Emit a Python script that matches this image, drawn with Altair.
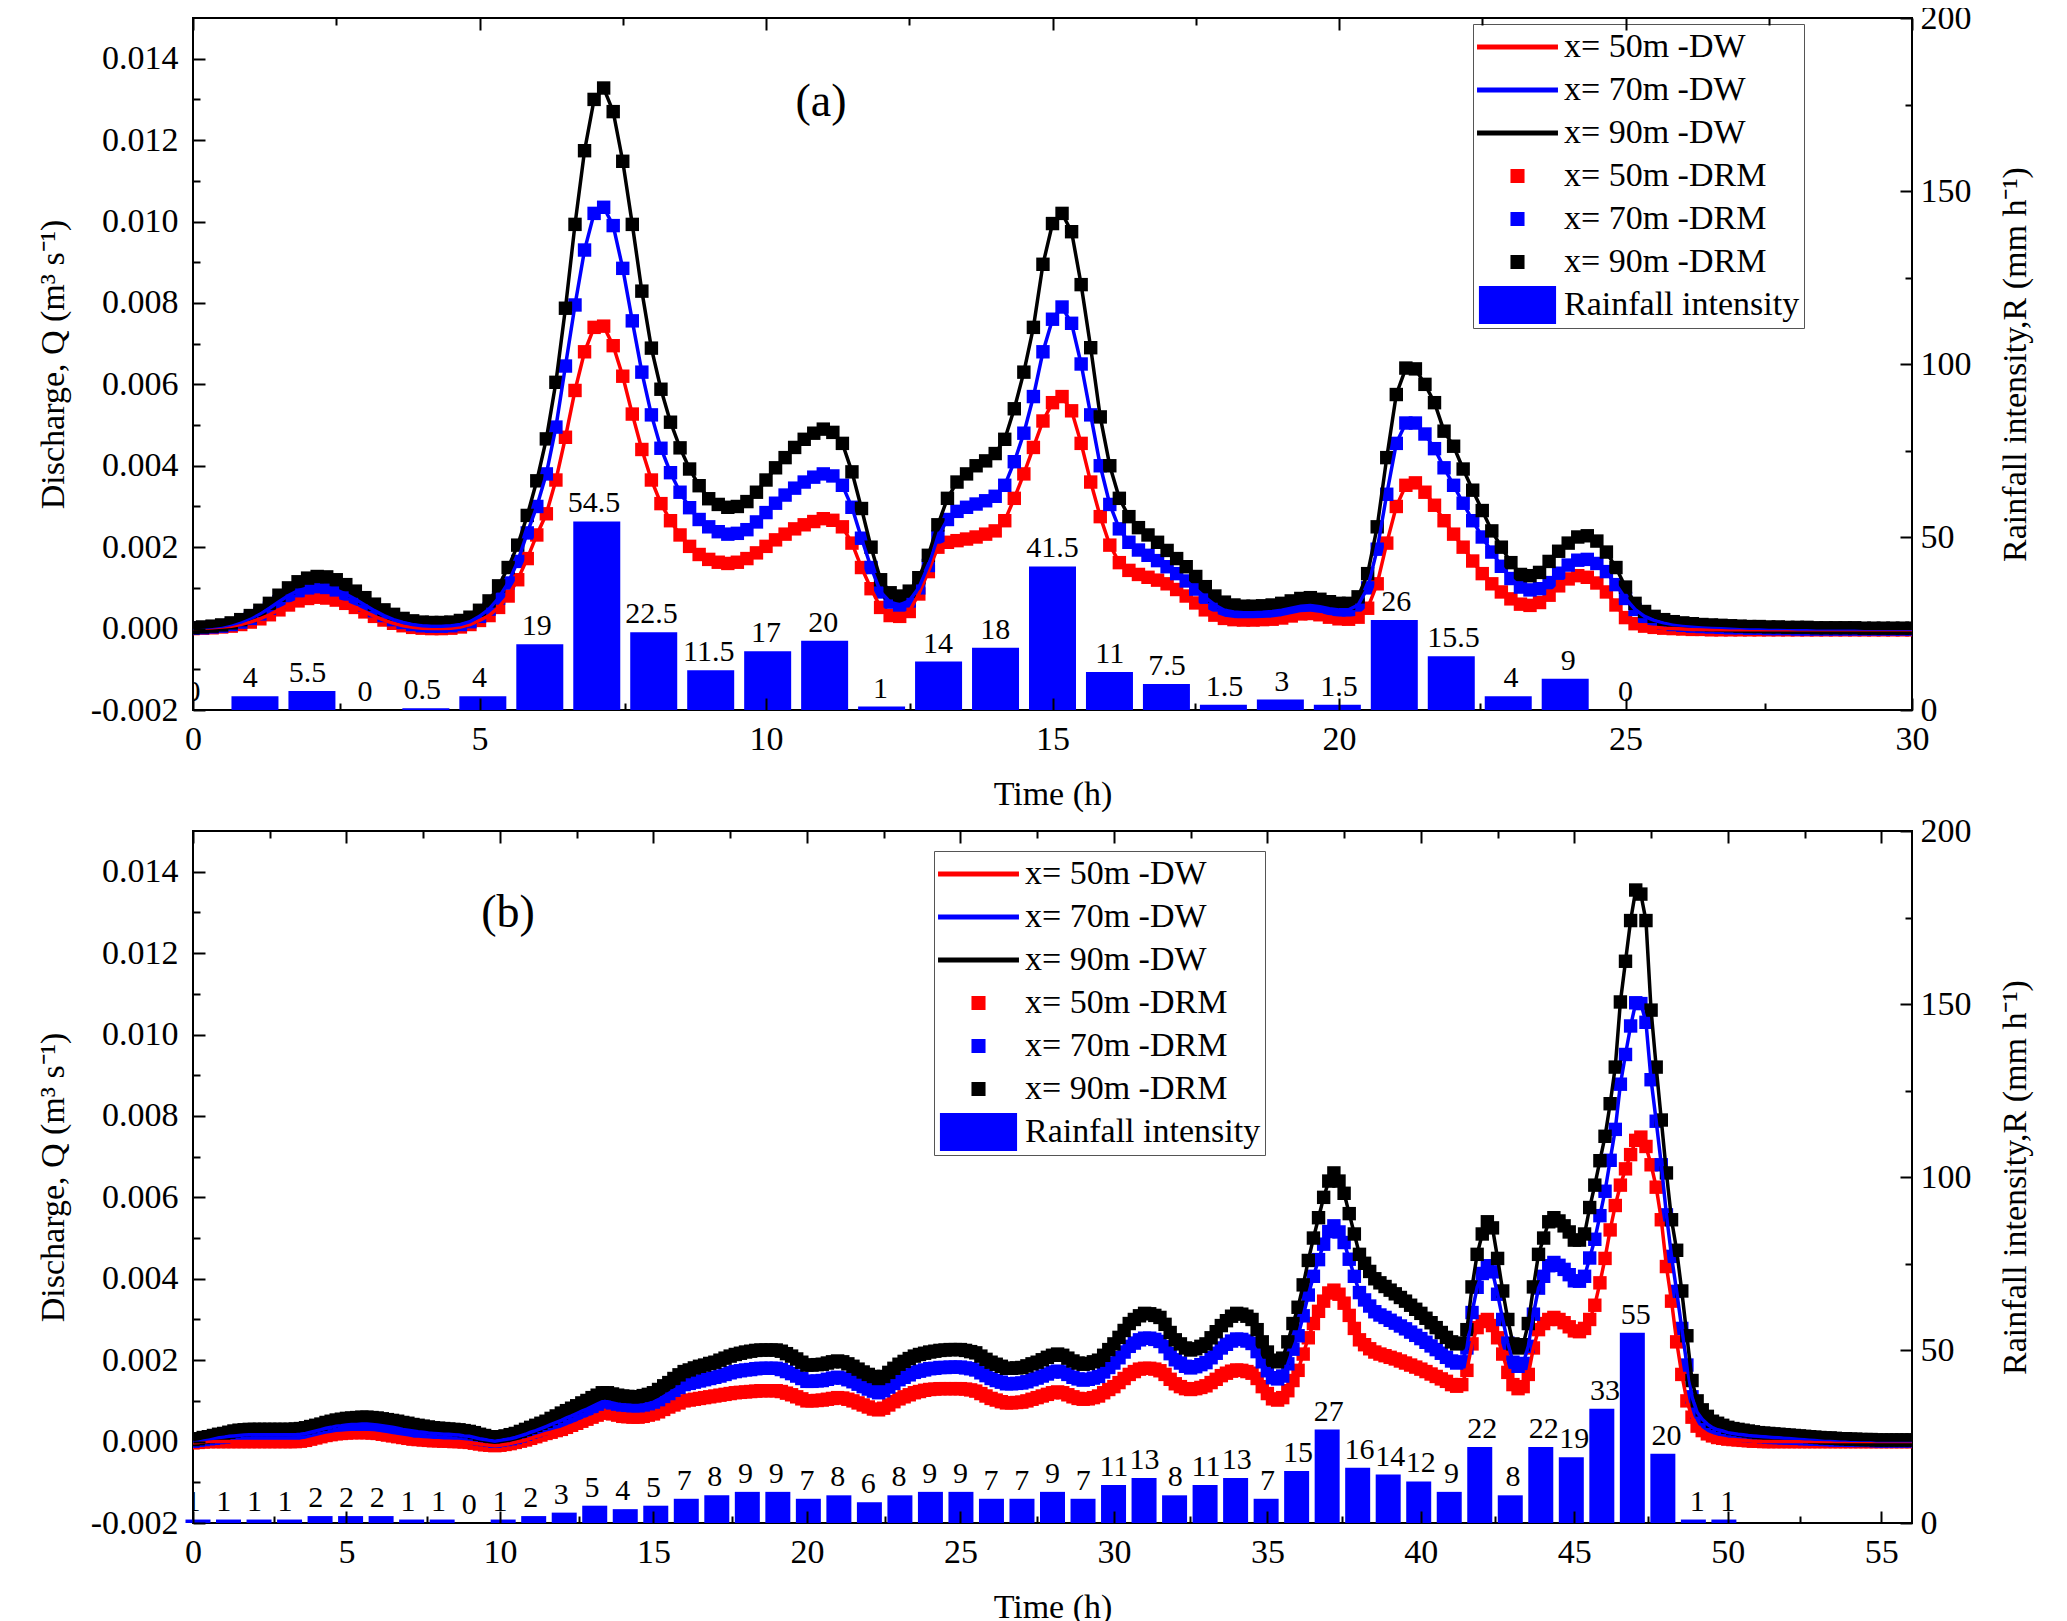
import numpy as np
import pandas as pd
import altair as alt

FONT = "Liberation Serif"

# Discharge, in 1e-5 m3/s, one value every 10 minutes.
# Panel (a): 0-30 h
q50_a = [
    0, 1, 2, 4, 6, 10,
    16, 24, 34, 46, 58, 68,
    74, 77, 75, 70, 62, 52,
    41, 30, 21, 13, 7, 3,
    1, 0, 0, 1, 4, 10,
    20, 32, 52, 80, 120, 172,
    230, 282, 365, 470, 585, 680,
    740, 743, 695, 620, 527, 440,
    365, 307, 265, 230, 202, 182,
    170, 163, 160, 163, 172, 186,
    202, 218, 232, 245, 255, 263,
    270, 266, 250, 210, 150, 98,
    52, 32, 30, 42, 85, 140,
    200, 212, 216, 220, 225, 232,
    240, 265, 320, 380, 445, 510,
    555, 570, 535, 455, 360, 275,
    205, 162, 143, 133, 126, 119,
    110, 96, 80, 63, 46, 33,
    25, 22, 21, 21, 22, 23,
    26, 31, 36, 37, 34, 28,
    24, 23, 28, 50, 110, 210,
    300, 352, 358, 335, 303, 265,
    232, 200, 166, 135, 110, 90,
    73, 60, 57, 64, 82, 105,
    122, 130, 126, 112, 90, 58,
    27, 12, 6, 3, 1, 0,
    -1, -2, -2, -3, -3, -3,
    -3, -3, -3, -3, -3, -3,
    -3, -3, -3, -3, -3, -3,
    -3, -3, -3, -3, -3, -3,
    -3,
]
q70_a = [
    1, 2, 4, 6, 10, 16,
    25, 36, 50, 66, 81, 93,
    100, 103, 101, 95, 85, 72,
    58, 44, 32, 22, 15, 10,
    7, 6, 6, 7, 10, 17,
    30, 48, 75, 112, 165, 235,
    300, 380, 495, 645, 795, 930,
    1020, 1035, 990, 885, 756, 630,
    525, 443, 383, 335, 297, 268,
    250, 238, 232, 234, 243, 262,
    285, 308, 328, 345, 360, 372,
    380, 375, 352, 298, 222, 150,
    90, 65, 58, 68, 100, 155,
    225, 268, 288, 298, 306, 314,
    325, 352, 410, 480, 570, 680,
    760, 790, 750, 650, 525, 400,
    305, 245, 212, 193, 180, 167,
    152, 135, 117, 97, 77, 58,
    45, 41, 39, 39, 40, 42,
    45, 50, 55, 57, 54, 49,
    46, 46, 58, 100, 195, 330,
    455, 505, 505, 478, 442, 395,
    352, 308, 265, 225, 188, 153,
    123, 102, 95, 98, 113, 136,
    156, 168, 170, 160, 140, 108,
    74, 47, 30, 20, 14, 10,
    8, 6, 5, 4, 3, 2,
    2, 1, 1, 0, 0, 0,
    -1, -1, -1, -1, -1, -1,
    -1, -1, -1, -1, -1, -1,
    -1,
]
q90_a = [
    2, 4, 6, 9, 14, 22,
    32, 45, 62, 82, 100, 115,
    124, 128, 127, 120, 108, 92,
    76, 60, 46, 35, 25, 19,
    16, 15, 15, 16, 20, 28,
    45, 68, 105, 150, 205, 278,
    363, 466, 605, 787, 993, 1174,
    1300, 1328, 1270, 1148, 993, 829,
    689, 588, 507, 444, 392, 351,
    319, 305, 298, 300, 312, 335,
    365, 395, 420, 445, 465, 480,
    490, 482, 455, 385, 295, 200,
    120, 88, 80, 92, 125, 180,
    255, 320, 360, 380, 400, 412,
    430, 465, 540, 630, 740, 895,
    995, 1020, 975, 845, 690, 520,
    400, 320, 275, 248, 230, 212,
    192, 172, 152, 128, 103, 80,
    65, 58, 55, 55, 56, 58,
    62, 68, 74, 76, 72, 66,
    62, 62, 78, 135, 250, 420,
    575, 640, 638, 600, 555, 485,
    448, 392, 340, 290, 240, 200,
    162, 133, 130, 138, 165, 190,
    210, 225, 228, 215, 188, 150,
    102, 62, 42, 30, 22, 17,
    14, 12, 10, 9, 8, 7,
    6, 5, 5, 4, 4, 3,
    3, 3, 2, 2, 2, 2,
    2, 1, 1, 1, 1, 1,
    1,
]
# hourly rainfall intensity (mm/h), bars centred on each hour
rain_a = [0, 4, 5.5, 0, 0.5, 4, 19, 54.5, 22.5, 11.5, 17, 20, 1, 14, 18,
          41.5, 11, 7.5, 1.5, 3, 1.5, 26, 15.5, 4, 9, 0]

# Panel (b): 0-56 h
q50_b = [
    -3, -2, -1, 0, 0, 0,
    0, 0, 0, 0, 0, 0,
    0, 0, 0, 0, 0, 0,
    0, 0, 0, 1, 3, 6,
    9, 12, 15, 17, 19, 20,
    21, 22, 22, 22, 22, 21,
    20, 18, 16, 14, 12, 10,
    8, 6, 5, 4, 3, 2,
    2, 1, 1, 0, 0, -1,
    -2, -4, -6, -8, -9, -10,
    -9, -7, -5, -2, 1, 4,
    8, 12, 16, 20, 23, 27,
    30, 35, 40, 45, 50, 55,
    60, 65, 70, 70, 68, 65,
    62, 61, 60, 60, 62, 65,
    68, 73, 79, 85, 90, 95,
    100, 102, 104, 106, 108, 110,
    112, 114, 116, 118, 120, 121,
    122, 123, 124, 125, 125, 125,
    125, 123, 119, 115, 110, 105,
    100, 100, 101, 102, 104, 106,
    108, 107, 104, 100, 95, 90,
    85, 80, 78, 82, 90, 98,
    105, 110, 115, 120, 123, 126,
    128, 129, 130, 130, 130, 130,
    130, 129, 127, 124, 118, 112,
    106, 102, 98, 95, 95, 96,
    97, 100, 104, 108, 112, 116,
    120, 122, 120, 115, 110, 106,
    104, 105, 108, 112, 120, 128,
    135, 145, 155, 165, 172, 178,
    180, 180, 178, 174, 165, 153,
    142, 135, 130, 128, 130, 133,
    137, 145, 153, 162, 168, 173,
    176, 175, 172, 168, 155, 135,
    118, 105, 102, 108, 125, 150,
    175, 215, 255, 290, 320, 345,
    365, 372, 362, 340, 310, 278,
    250, 238, 228, 220, 215, 211,
    207, 203, 198, 193, 188, 183,
    178, 172, 166, 160, 154, 148,
    140, 136, 140, 175, 240, 280,
    295, 300, 285, 255, 215, 170,
    140, 130, 135, 165, 230, 275,
    290, 300, 305, 300, 292, 282,
    272, 270, 278, 300, 335, 390,
    450, 520, 580, 630, 670, 705,
    740, 748, 725, 680, 625, 545,
    430, 345, 245, 165, 100, 60,
    38, 27, 19, 14, 10, 8,
    6, 5, 4, 3, 2, 1,
    1, 0, 0, 0, 0, 0,
    0, 0, 0, 0, 0, 0,
    0, 0, 0, 0, 0, 0,
    0, 0, 0, 0, 0, 0,
    0, 0, 0, 0, 0, 0,
    0,
]
q70_b = [
    1, 3, 5, 7, 8, 10,
    11, 13, 14, 15, 16, 17,
    17, 17, 17, 17, 17, 17,
    17, 17, 17, 18, 20, 23,
    26, 29, 33, 35, 38, 39,
    41, 42, 42, 43, 43, 42,
    41, 39, 37, 35, 33, 30,
    28, 26, 24, 23, 21, 20,
    19, 18, 18, 17, 16, 14,
    13, 10, 7, 5, 3, 1,
    3, 5, 7, 10, 14, 18,
    23, 27, 32, 37, 42, 47,
    52, 58, 63, 69, 75, 80,
    86, 92, 98, 98, 95, 92,
    90, 89, 88, 88, 90, 93,
    97, 103, 111, 118, 126, 133,
    140, 143, 146, 149, 152, 155,
    158, 161, 165, 169, 172, 174,
    176, 177, 179, 180, 180, 180,
    180, 177, 172, 167, 161, 155,
    148, 148, 149, 150, 153, 156,
    158, 156, 152, 147, 141, 135,
    129, 124, 120, 125, 134, 143,
    152, 158, 164, 170, 173, 176,
    179, 180, 182, 182, 183, 183,
    183, 181, 179, 176, 169, 162,
    155, 150, 146, 142, 142, 143,
    144, 147, 152, 156, 161, 166,
    171, 173, 171, 165, 158, 154,
    151, 153, 156, 160, 171, 182,
    193, 206, 220, 234, 242, 250,
    254, 254, 251, 246, 233, 216,
    201, 193, 185, 181, 184, 189,
    194, 206, 217, 230, 239, 247,
    252, 251, 247, 241, 221, 196,
    174, 157, 154, 161, 191, 227,
    260, 309, 360, 406, 447, 485,
    516, 530, 515, 489, 448, 406,
    366, 348, 333, 319, 311, 305,
    298, 291, 284, 277, 269, 261,
    253, 244, 235, 226, 217, 207,
    198, 193, 196, 230, 317, 379,
    413, 432, 417, 362, 300, 242,
    195, 185, 192, 234, 313, 377,
    406, 432, 440, 433, 423, 410,
    395, 394, 406, 451, 497, 555,
    615, 691, 767, 878, 951, 1021,
    1078, 1076, 1030, 889, 787, 680,
    557, 455, 369, 278, 188, 110,
    72, 55, 43, 34, 29, 26,
    22, 20, 18, 17, 15, 14,
    13, 12, 11, 10, 10, 9,
    9, 8, 8, 7, 7, 6,
    6, 5, 5, 4, 4, 4,
    3, 3, 3, 3, 3, 2,
    2, 2, 2, 2, 2, 2,
    2,
]
q90_b = [
    5, 7, 10, 12, 15, 18,
    20, 23, 26, 28, 29, 30,
    30, 30, 30, 30, 30, 30,
    30, 30, 31, 32, 34, 37,
    40, 43, 47, 50, 53, 55,
    57, 58, 59, 60, 60, 59,
    58, 56, 54, 52, 50, 47,
    45, 42, 40, 38, 36, 34,
    33, 32, 31, 30, 29, 27,
    25, 22, 18, 15, 12, 10,
    12, 14, 17, 20, 25, 30,
    35, 40, 45, 50, 57, 63,
    70, 76, 82, 88, 95, 101,
    108, 114, 120, 120, 117, 114,
    112, 111, 110, 110, 113, 116,
    120, 128, 137, 145, 155, 164,
    172, 176, 181, 185, 188, 192,
    195, 200, 205, 210, 214, 217,
    220, 222, 224, 225, 225, 225,
    225, 222, 216, 210, 203, 195,
    188, 188, 189, 190, 193, 196,
    198, 196, 191, 185, 178, 171,
    165, 160, 155, 160, 170, 180,
    190, 197, 204, 210, 214, 217,
    220, 222, 224, 225, 226, 226,
    226, 224, 221, 218, 210, 202,
    195, 190, 185, 180, 180, 181,
    182, 186, 191, 195, 201, 207,
    212, 215, 212, 205, 198, 193,
    190, 192, 196, 200, 212, 226,
    240, 256, 273, 290, 300, 309,
    315, 314, 310, 305, 288, 268,
    250, 240, 230, 225, 228, 234,
    240, 255, 270, 285, 297, 308,
    315, 313, 308, 300, 275, 245,
    220, 200, 196, 205, 245, 290,
    330, 385, 445, 500, 550, 600,
    640, 660, 640, 610, 560, 510,
    460, 438, 418, 400, 390, 381,
    372, 363, 354, 345, 335, 325,
    315, 303, 292, 280, 268, 256,
    245, 240, 242, 275, 380, 460,
    510, 540, 525, 450, 370, 300,
    240, 230, 238, 290, 380, 460,
    500, 540, 550, 542, 530, 515,
    495, 495, 510, 575, 630, 690,
    750, 830, 920, 1080, 1180, 1280,
    1355, 1345, 1280, 1060, 920, 790,
    660, 545, 470, 370, 260, 150,
    100, 78, 62, 50, 45, 40,
    35, 32, 30, 28, 26, 24,
    22, 21, 20, 19, 18, 17,
    16, 15, 14, 13, 12, 11,
    10, 9, 9, 8, 7, 7,
    6, 6, 5, 5, 5, 4,
    4, 4, 4, 4, 4, 4,
    4,
]
rain_b = [1, 1, 1, 1, 2, 2, 2, 1, 1, 0, 1, 2, 3, 5, 4, 5, 7, 8, 9, 9, 7, 8,
          6, 8, 9, 9, 7, 7, 9, 7, 11, 13, 8, 11, 13, 7, 15, 27, 16, 14, 12,
          9, 22, 8, 22, 19, 33, 55, 20, 1, 1]

for arr in (q50_a, q70_a, q90_a):
    assert len(arr) == 181, len(arr)
for arr in (q50_b, q70_b, q90_b):
    assert len(arr) == 337, len(arr)

SERIES = ["x= 50m -DW", "x= 70m -DW", "x= 90m -DW",
          "x= 50m -DRM", "x= 70m -DRM", "x= 90m -DRM", "Rainfall intensity"]
SERIES_COLORS = ["#ff0000", "#0000ff", "#000000",
                 "#ff0000", "#0000ff", "#000000", "#0000ff"]
# legend glyphs, in units of half the legend symbol box
LINE_GLYPH = "M-2.13,-0.13H2.13V0.13H-2.13Z"
SQUARE_GLYPH = "M-0.37,-0.37H0.37V0.37H-0.37Z"
BAR_GLYPH = "M-2.03,-1H2.03V1H-2.03Z"
SERIES_SHAPES = [LINE_GLYPH] * 3 + [SQUARE_GLYPH] * 3 + [BAR_GLYPH]

Q_DOMAIN = [-0.002, 0.015]
R_DOMAIN = [0, 200]
q_ticks = [-0.002, 0.0, 0.002, 0.004, 0.006, 0.008, 0.010, 0.012, 0.014]
q_minor = [-0.001, 0.001, 0.003, 0.005, 0.007, 0.009, 0.011, 0.013]
r_ticks = [0, 50, 100, 150, 200]
r_minor = [25, 75, 125, 175]
x_ticks_a = [0, 5, 10, 15, 20, 25, 30]
x_minor_a = [2.5, 7.5, 12.5, 17.5, 22.5, 27.5]
x_ticks_b = [0, 5, 10, 15, 20, 25, 30, 35, 40, 45, 50, 55]
x_minor_b = [2.5, 7.5, 12.5, 17.5, 22.5, 27.5, 32.5, 37.5, 42.5, 47.5, 52.5]

W, H = 1719, 692


def tick_axis(orient, values, size):
    """Ticks only, pulled inside the frame with a negative offset."""
    return alt.Axis(orient=orient, values=values, labels=False, domain=False,
                    grid=False, ticks=True, tickSize=size, tickWidth=2,
                    tickColor="black", offset=-size, title=None, zindex=2)


q_label_axis = alt.Axis(
    orient="left", values=q_ticks, ticks=False, tickSize=0,
    labelExpr="replace(format(datum.value, '.3f'), '\u2212', '-')",
    labelPadding=15, minExtent=104, maxExtent=104,
    title="Discharge, Q (m\u00b3 s\u207b\u00b9)", titlePadding=19,
)
r_label_axis = alt.Axis(
    orient="right", values=r_ticks, ticks=False, tickSize=0,
    labelPadding=8, minExtent=60, maxExtent=60,
    title="Rainfall intensity,R (mm h\u207b\u00b9)", titlePadding=26,
    titleAngle=270, titleBaseline="top",
)


def x_label_axis(values):
    return alt.Axis(orient="bottom", values=values, ticks=False, tickSize=0,
                    labelPadding=12, title="Time (h)", titlePadding=21)


def panel(q50, q70, q90, rain, xmax, x_ticks, x_minor, bar_size,
          legend_pos, tag, tag_pos):
    t = np.arange(len(q50)) / 6  # 10-minute output steps
    dw = pd.concat(
        [pd.DataFrame({"t": t, "Q": np.array(q) * 1e-5, "series": name})
         for q, name in zip((q50, q70, q90), SERIES[:3])],
        ignore_index=True,
    )
    drm = dw.assign(series=dw["series"].str.replace("-DW", "-DRM"))
    rain_df = pd.DataFrame({"t": np.arange(len(rain)), "R": rain,
                            "label": [f"{v:g}" for v in rain]})

    xs = alt.Scale(domain=[0, xmax], nice=False, zero=False)
    qs = alt.Scale(domain=Q_DOMAIN, nice=False, zero=False)
    rs = alt.Scale(domain=R_DOMAIN, nice=False, zero=False)
    colors = alt.Scale(domain=SERIES, range=SERIES_COLORS)

    # legend carrier goes first so its legend wins over the legend=None layers
    legend = alt.Legend(
        orient="none", legendX=legend_pos[0], legendY=legend_pos[1],
        title=None, labelFontSize=34, labelColor="black", labelLimit=600,
        symbolSize=1444, symbolOpacity=1, symbolStrokeWidth=0,
        symbolOffset=21.5, labelOffset=27.5, rowPadding=7, padding=4,
        strokeColor="#555555", fillColor="white",
    )
    key = alt.Chart(pd.DataFrame({"series": SERIES})).mark_point(
        filled=True, opacity=0
    ).encode(
        color=alt.Color("series:N", scale=colors, legend=legend),
        shape=alt.Shape("series:N",
                        scale=alt.Scale(domain=SERIES, range=SERIES_SHAPES),
                        legend=legend),
    )

    bars = alt.Chart(rain_df).mark_bar(color="#0000ff", size=bar_size).encode(
        x=alt.X("t:Q", scale=xs, axis=tick_axis("bottom", x_minor, 7)),
        y=alt.Y("R:Q", scale=rs, axis=r_label_axis),
    )
    bar_text = alt.Chart(rain_df).mark_text(
        baseline="bottom", dy=-3, fontSize=30, color="black", clip=True
    ).encode(
        x=alt.X("t:Q", scale=xs, axis=tick_axis("top", x_ticks, 12)),
        y=alt.Y("R:Q", scale=rs, axis=tick_axis("right", r_ticks, 12)),
        text="label:N",
    )
    points = alt.Chart(drm).mark_point(
        shape="square", filled=True, size=180, opacity=1, clip=True
    ).encode(
        x=alt.X("t:Q", scale=xs, axis=tick_axis("bottom", x_ticks, 12)),
        y=alt.Y("Q:Q", scale=qs, axis=tick_axis("left", q_ticks, 12)),
        color=alt.Color("series:N", scale=colors, legend=None),
    )
    lines = alt.Chart(dw).mark_line(strokeWidth=3.5, clip=True).encode(
        x=alt.X("t:Q", scale=xs, axis=x_label_axis(x_ticks)),
        y=alt.Y("Q:Q", scale=qs, axis=q_label_axis),
        color=alt.Color("series:N", scale=colors, legend=None),
    )
    # invisible layers that only carry the minor ticks
    q_minor_layer = alt.Chart(dw.head(1)).mark_point(opacity=0).encode(
        x=alt.X("t:Q", scale=xs, axis=tick_axis("top", x_minor, 7)),
        y=alt.Y("Q:Q", scale=qs, axis=tick_axis("left", q_minor, 7)),
    )
    r_minor_layer = alt.Chart(rain_df.head(1)).mark_point(opacity=0).encode(
        x=alt.X("t:Q", scale=xs, axis=None),
        y=alt.Y("R:Q", scale=rs, axis=tick_axis("right", r_minor, 7)),
    )
    tag_layer = alt.Chart(pd.DataFrame({"tag": [tag]})).mark_text(
        fontSize=46, color="black"
    ).encode(x=alt.value(tag_pos[0]), y=alt.value(tag_pos[1]), text="tag:N")

    return (
        alt.layer(key, bars, bar_text, points, lines, q_minor_layer,
                  r_minor_layer, tag_layer)
        .resolve_scale(x="independent", y="independent")
        .properties(width=W, height=H)
    )


panel_a = panel(q50_a, q70_a, q90_a, rain_a, 30, x_ticks_a, x_minor_a, 47,
                (1280, 6), "(a)", (628, 84))
panel_b = panel(q50_b, q70_b, q90_b, rain_b, 56, x_ticks_b, x_minor_b, 25,
                (741, 20), "(b)", (315, 82))

chart = (
    alt.vconcat(panel_a, panel_b, spacing=121, bounds="flush")
    .resolve_scale(color="independent", shape="independent")
    .resolve_legend(color="independent", shape="independent")
    .properties(padding={"left": 27, "top": -8, "right": 6, "bottom": 4})
    .configure(font=FONT)
    .configure_view(stroke="black", strokeWidth=2)
    .configure_axis(
        labelFont=FONT, titleFont=FONT, labelColor="black", titleColor="black",
        labelFontSize=34, titleFontSize=34, titleFontWeight="normal",
        grid=False, domain=False, labelFlush=False, labelOverlap=False,
    )
    .configure_legend(labelFont=FONT)
)

chart.save("out.html", embed_options={"renderer": "svg", "actions": False})
